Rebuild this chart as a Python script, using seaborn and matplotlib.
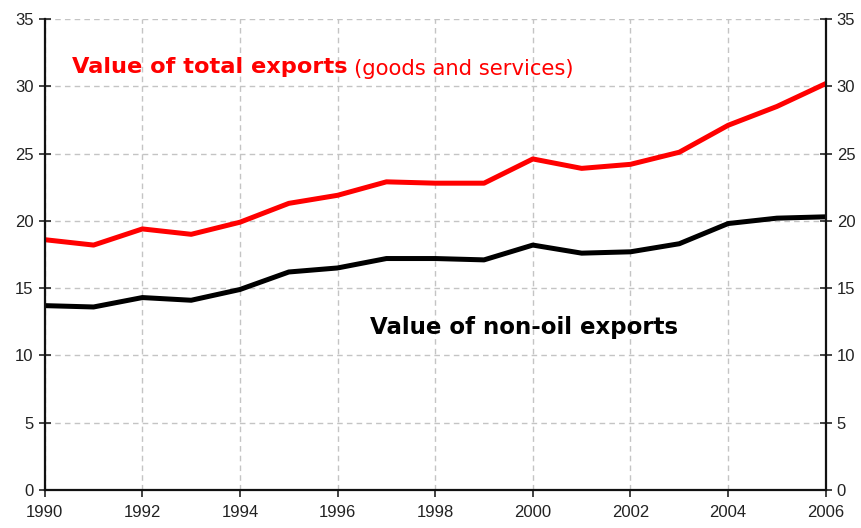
import matplotlib
matplotlib.use("Agg")
import matplotlib.pyplot as plt
import seaborn as sns
import pandas as pd

years = list(range(1990, 2007))
total_exports = [18.6, 18.2, 19.4, 19.0, 19.9, 21.3, 21.9, 22.9, 22.8, 22.8, 24.6, 23.9, 24.2, 25.1, 27.1, 28.5, 30.2]
nonoil_exports = [13.7, 13.6, 14.3, 14.1, 14.9, 16.2, 16.5, 17.2, 17.2, 17.1, 18.2, 17.6, 17.7, 18.3, 19.8, 20.2, 20.3]
xticks = list(range(1990, 2007, 2))
yticks = list(range(0, 36, 5))

df = pd.DataFrame({"year": years, "total": total_exports, "nonoil": nonoil_exports})

sns.set_style("white")
plt.rcParams['font.family'] = ['Liberation Sans', 'DejaVu Sans']

fig = plt.figure(figsize=(8.61, 5.28), dpi=100)
ax = fig.add_axes([0.052, 0.072, 0.907, 0.892])

sns.lineplot(data=df, x="year", y="total", ax=ax, color="#ff0000", linewidth=3.6)
sns.lineplot(data=df, x="year", y="nonoil", ax=ax, color="#000000", linewidth=3.6)

ax.set_xlim(1990, 2006)
ax.set_ylim(0, 35)
ax.set_xticks(xticks)
ax.set_yticks(yticks)
ax.set_xlabel("")
ax.set_ylabel("")
ax.grid(True, color="#c4c4c4", linestyle=(0, (4, 3)), linewidth=1.0)
ax.set_axisbelow(True)

ax.spines["top"].set_visible(False)
for s in ["left", "right", "bottom"]:
    ax.spines[s].set_visible(True)
    ax.spines[s].set_color("#111111")
    ax.spines[s].set_linewidth(1.6)

ax.tick_params(axis="y", which="both", left=True, right=True, labelleft=True, labelright=True,
               direction="inout", length=8, width=1.2, labelsize=12, colors="#222222", pad=4)
ax.tick_params(axis="x", bottom=True, direction="out", length=5, width=1.2, labelsize=12,
               colors="#222222", pad=6)

t1 = ax.text(1990.55, 31.4, "Value of total exports", color="#ff0000", fontsize=16.2,
             fontweight="bold", family=["DejaVu Sans"], va="center", ha="left")
ax.annotate("(goods and services)", xy=(1, 0.5), xycoords=t1, xytext=(5, -1),
            textcoords="offset points", color="#ff0000", fontsize=15.2,
            family=["DejaVu Sans"], va="center", ha="left")
ax.text(1996.66, 12.1, "Value of non-oil exports", color="black", fontsize=16.5,
        fontweight="bold", family=["DejaVu Sans"], va="center", ha="left")

fig.savefig("out.png", dpi=100)
